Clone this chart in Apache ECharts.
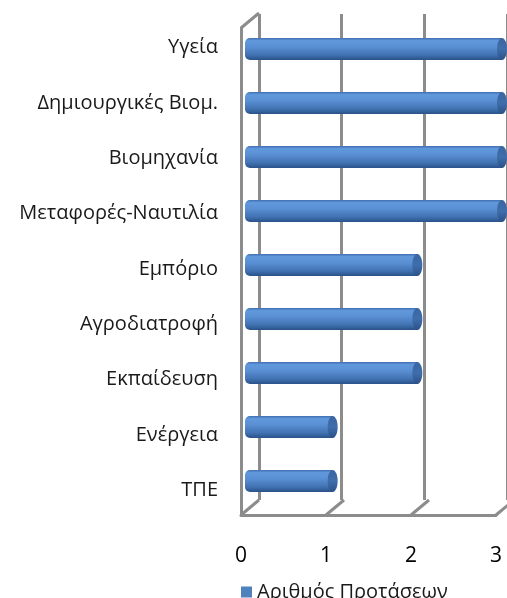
<!DOCTYPE html>
<html>
<head>
<meta charset="utf-8">
<script src="https://cdn.jsdelivr.net/npm/echarts@6/dist/echarts.min.js"></script>
<style>
  html, body { margin: 0; padding: 0; background: #fff; }
  #main { width: 507px; height: 598px; }
</style>
</head>
<body>
<div id="main"></div>
<script>
// data
var categories = ['Υγεία', 'Δημιουργικές Βιομ.', 'Βιομηχανία', 'Μεταφορές-Ναυτιλία', 'Εμπόριο',
    'Αγροδιατροφή', 'Εκπαίδευση', 'Ενέργεια', 'ΤΠΕ'];
var counts = [3, 3, 3, 3, 2, 2, 2, 1, 1];
var tickValues = [0, 1, 2, 3];
var seriesName = 'Αριθμός Προτάσεων';

var font = '"Open Sans", "Noto Sans", sans-serif';
var frameColor = '#8c8c8c';
var depth = [18, -15]; // front -> back offset of the 3d box

var myChart = echarts.init(document.getElementById('main'));

// cylinder look
var barGrad = new echarts.graphic.LinearGradient(0, 0, 0, 1, [
    {offset: 0, color: '#3f6faf'},
    {offset: 0.12, color: '#6198dc'},
    {offset: 0.4, color: '#5a8fd3'},
    {offset: 0.75, color: '#4274b4'},
    {offset: 1, color: '#2a5189'}
]);
var capGrad = new echarts.graphic.LinearGradient(0, 0, 0, 1, [
    {offset: 0, color: '#3a66a2'},
    {offset: 0.5, color: '#3f6eab'},
    {offset: 1, color: '#2b5188'}
]);

var option = {
    animation: false,
    backgroundColor: '#fff',
    grid: [
        // back wall
        {left: 259, top: 14, width: 255, height: 486},
        // front floor / left wall
        {left: 241, top: 28, width: 255, height: 487},
        // bars
        {left: 253, top: 22, width: 255, height: 486},
        // category labels
        {left: 241, top: 20, width: 255, height: 498}
    ],
    xAxis: [
        {gridIndex: 0, type: 'value', min: 0, max: 3, interval: 1,
            axisLine: {show: false}, axisTick: {show: false}, axisLabel: {show: false},
            splitLine: {show: true, lineStyle: {color: frameColor, width: 3}}},
        {gridIndex: 1, type: 'value', min: 0, max: 3, interval: 1,
            axisLine: {show: true, onZero: false, lineStyle: {color: frameColor, width: 3}},
            axisTick: {show: false}, splitLine: {show: false},
            axisLabel: {margin: 31, fontSize: 21, color: '#000', fontFamily: font}},
        {gridIndex: 2, type: 'value', min: 0, max: 3, show: false},
        {gridIndex: 3, type: 'value', min: 0, max: 3, show: false}
    ],
    yAxis: [
        {gridIndex: 0, type: 'value', show: false},
        {gridIndex: 1, type: 'value', min: 0, max: 1,
            axisLine: {show: true, onZero: false, lineStyle: {color: frameColor, width: 3}},
            axisTick: {show: false}, axisLabel: {show: false}, splitLine: {show: false}},
        {gridIndex: 2, type: 'category', data: categories, inverse: true, show: false},
        {gridIndex: 3, type: 'category', data: categories, inverse: true,
            axisLine: {show: false}, axisTick: {show: false},
            axisLabel: {margin: 23, fontSize: 20, color: '#1a1a1a', fontFamily: font}}
    ],
    legend: {
        data: [{name: seriesName, icon: 'rect', itemStyle: {color: '#4f81bd'}}],
        left: 236,
        top: 577,
        itemWidth: 11,
        itemHeight: 11,
        itemGap: 6,
        textStyle: {fontSize: 20, color: '#1a1a1a', fontFamily: font}
    },
    series: [
        {
            // floor diagonals + top-left edge of the box
            type: 'custom',
            xAxisIndex: 1,
            yAxisIndex: 1,
            silent: true,
            data: tickValues.map(function (t) { return [t, 0]; }).concat([[0, 1]]),
            renderItem: function (params, api) {
                var p = api.coord([api.value(0), api.value(1)]);
                return {
                    type: 'line',
                    shape: {x1: p[0], y1: p[1], x2: p[0] + depth[0], y2: p[1] + depth[1]},
                    style: {stroke: frameColor, lineWidth: 3}
                };
            }
        },
        {
            name: seriesName,
            type: 'custom',
            xAxisIndex: 2,
            yAxisIndex: 2,
            clip: false,
            itemStyle: {color: '#4f81bd'},
            data: categories.map(function (c, i) { return [counts[i], i]; }),
            renderItem: function (params, api) {
                var start = api.coord([0, api.value(1)]);
                var end = api.coord([api.value(0), api.value(1)]);
                var h = 22;
                var capR = 5;
                var x0 = start[0] - 8;
                return {
                    type: 'group',
                    children: [
                        {
                            type: 'rect',
                            shape: {x: x0, y: end[1] - h / 2, width: end[0] - capR - x0, height: h, r: [5, 0, 0, 5]},
                            style: {fill: barGrad}
                        },
                        {
                            type: 'ellipse',
                            shape: {cx: end[0] - capR, cy: end[1], rx: capR, ry: h / 2},
                            style: {fill: capGrad}
                        }
                    ]
                };
            }
        }
    ]
};

myChart.setOption(option);
</script>
</body>
</html>
